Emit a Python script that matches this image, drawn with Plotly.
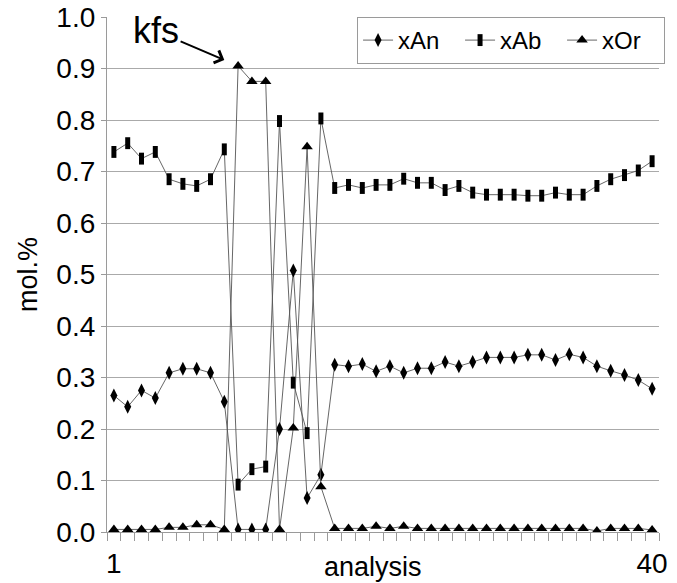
import plotly.graph_objects as go

analysis = list(range(1, 41))

xAn = [0.265, 0.243, 0.275, 0.260, 0.309, 0.317, 0.317, 0.309, 0.253, 0.005,
       0.005, 0.005, 0.200, 0.508, 0.066, 0.111, 0.325, 0.322, 0.326, 0.312,
       0.322, 0.309, 0.318, 0.318, 0.330, 0.322, 0.330, 0.339, 0.339, 0.339,
       0.344, 0.344, 0.334, 0.345, 0.339, 0.322, 0.313, 0.305, 0.295, 0.278]

xAb = [0.738, 0.755, 0.725, 0.738, 0.685, 0.676, 0.672, 0.685, 0.743, 0.092,
       0.122, 0.127, 0.798, 0.290, 0.192, 0.803, 0.668, 0.674, 0.668, 0.674,
       0.674, 0.686, 0.678, 0.678, 0.664, 0.672, 0.659, 0.655, 0.655, 0.655,
       0.653, 0.653, 0.659, 0.655, 0.655, 0.672, 0.685, 0.693, 0.702, 0.720]

xOr = [0.005, 0.005, 0.005, 0.005, 0.009, 0.009, 0.014, 0.014, 0.005, 0.905,
       0.875, 0.875, 0.005, 0.202, 0.748, 0.088, 0.007, 0.007, 0.007, 0.011,
       0.007, 0.011, 0.007, 0.007, 0.007, 0.007, 0.007, 0.007, 0.007, 0.007,
       0.007, 0.007, 0.007, 0.007, 0.007, 0.002, 0.007, 0.007, 0.007, 0.004]

y_ticks = [round(i * 0.1, 1) for i in range(11)]
grid_vals = [round(i * 0.1, 1) for i in range(1, 10)]
x_tick_labels = [1, 40]

FONT = "Arial, Liberation Sans, sans-serif"
LINE_COL = "#555555"
AX_COL = "#9a9a9a"

fig = go.Figure()
fig.add_trace(go.Scatter(
    x=analysis, y=xAn, name="xAn", mode="lines+markers",
    line=dict(color=LINE_COL, width=0.9),
    marker=dict(symbol="diamond-tall", size=10, color="black"),
))
fig.add_trace(go.Scatter(
    x=analysis, y=xAb, name="xAb", mode="lines+markers",
    line=dict(color=LINE_COL, width=0.9),
    marker=dict(symbol="line-ns", size=8.5, color="black",
                line=dict(width=5, color="black")),
))
fig.add_trace(go.Scatter(
    x=analysis, y=xOr, name="xOr", mode="lines+markers",
    line=dict(color=LINE_COL, width=0.9),
    marker=dict(symbol="triangle-up", size=10, color="black"),
))

fig.add_annotation(
    x=10, y=xOr[9], xref="x", yref="y",
    text="kfs", showarrow=True,
    ax=-82, ay=-35, axref="pixel", ayref="pixel",
    arrowhead=4, arrowsize=1.3, arrowwidth=2, arrowcolor="black",
    standoff=15,
    font=dict(family=FONT, size=36, color="black"),
)
fig.add_annotation(
    x=0.482, y=-0.068, xref="paper", yref="paper",
    text="analysis", showarrow=False, xanchor="center", yanchor="middle",
    font=dict(family=FONT, size=27, color="black"),
)

fig.update_layout(
    width=677, height=583,
    margin=dict(l=107, r=14, t=17, b=51),
    paper_bgcolor="white", plot_bgcolor="white",
    font=dict(family=FONT, color="black"),
    showlegend=True,
    legend=dict(
        orientation="h", x=0.453, xanchor="left", y=1.0, yanchor="top",
        bordercolor=AX_COL, borderwidth=1, bgcolor="white",
        font=dict(family=FONT, size=24, color="black"),
        itemwidth=30, entrywidth=57, entrywidthmode="pixels",
    ),
    xaxis=dict(
        range=[0.5, 40.5], tickmode="array", tickvals=x_tick_labels,
        ticktext=[str(v) for v in x_tick_labels],
        ticks="outside", ticklen=6, tickcolor="rgba(0,0,0,0)",
        tickfont=dict(family=FONT, size=28, color="black"),
        ticklabeloverflow="allow",
        showline=True, linecolor=AX_COL, linewidth=1.2,
        showgrid=False, zeroline=False, automargin=False,
        minor=dict(tickmode="array", tickvals=[v + 0.5 for v in range(0, 41)],
                   ticks="outside", ticklen=8, tickcolor=AX_COL, showgrid=False),
    ),
    yaxis=dict(
        range=[0, 1.0], tickmode="array", tickvals=y_ticks,
        ticktext=[f"{v:.1f}" for v in y_ticks],
        ticks="outside", ticklen=5, tickcolor=AX_COL,
        tickfont=dict(family=FONT, size=28, color="black"),
        ticklabeloverflow="allow",
        showline=True, linecolor=AX_COL, linewidth=1.2,
        showgrid=False, zeroline=False, automargin=False,
        title=dict(text="mol.%", font=dict(family=FONT, size=27, color="black"),
                   standoff=10),
        minor=dict(tickmode="array", tickvals=grid_vals, ticks="",
                   showgrid=True, gridcolor="#aaaaaa", gridwidth=1.2),
    ),
)

fig.write_html("out.html", config={"displayModeBar": False},
               post_script="document.body.style.margin='0';document.body.style.overflow='hidden';")
